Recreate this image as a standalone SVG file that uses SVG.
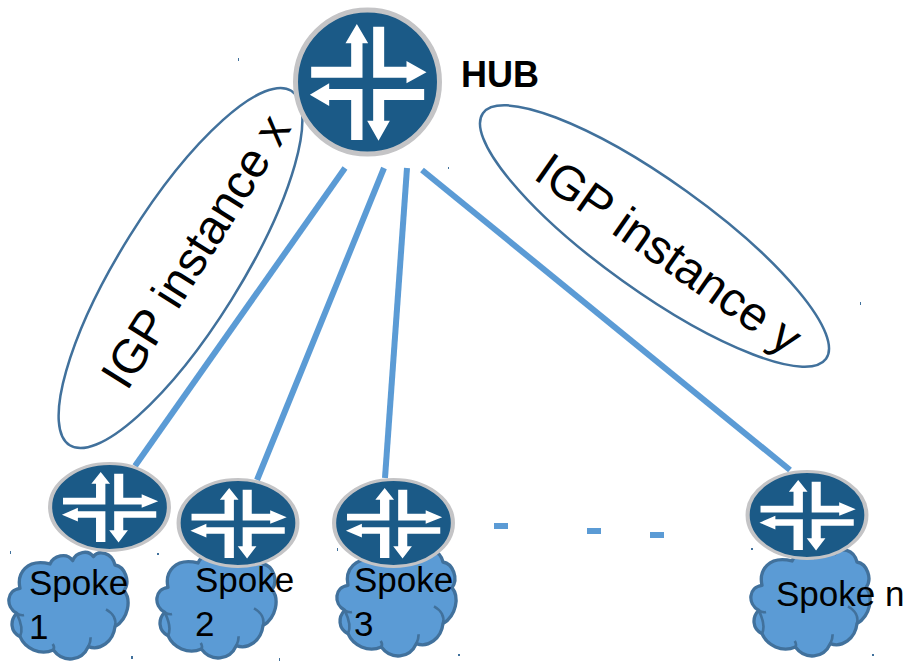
<svg xmlns="http://www.w3.org/2000/svg" width="905" height="661" viewBox="0 0 905 661">
<style>
text{font-family:"Liberation Sans",Arial,sans-serif;fill:#000}
.lbl{font-size:35px}
.big{font-size:48px}
.hub{font-size:36px;font-weight:bold}
.link{stroke:#5b9bd5;stroke-width:6;fill:none}
.dash{fill:#5b9bd5}
.oval{fill:#fff;stroke:#41719c;stroke-width:2.5}
.speck{fill:#41719c}
</style>
<defs>
<g id="router">
<circle r="216" fill="#1b5a87" stroke="#c4c4c6" stroke-width="15"/>
<g fill="#fff">
<polygon points="-32,-174 2,-116 -15,-116 -15,-13 -169,-13 -169,-46 -49,-46 -49,-116 -66,-116"/>
<polygon points="17,-166 50,-166 50,-46 117,-46 117,-63 177,-29 117,4 117,-13 17,-13"/>
<polygon points="-173,38 -115,4 -115,21 -15,21 -15,174 -49,174 -49,54 -115,54 -115,72"/>
<polygon points="17,21 170,21 170,54 50,54 50,116 67,116 33,176 -1,116 17,116"/>
</g>
</g>
<g id="cloud">
<path fill="#5b9bd5" stroke="#41719c" stroke-width="10" stroke-linejoin="round" d="M60,415 C50,370 80,325 150,342 C160,318 200,305 218,332 C228,305 265,298 280,320 C295,300 335,305 345,345 C375,350 392,395 372,422 C395,450 385,505 345,530 C340,575 300,603 265,590 C245,635 190,640 160,600 C120,618 75,595 60,560 C30,545 30,510 50,490 C15,470 20,420 60,415 Z"/>
<path fill="none" stroke="#41719c" stroke-width="8" d="M318,478 C340,490 350,510 345,530 M265,590 C270,580 272,570 272,562 M160,600 C165,592 160,585 158,582 M60,560 C65,550 70,530 50,490 M50,490 C58,495 65,497 72,495"/>
</g>
</defs>
<g id="oval-x"><ellipse class="oval" cx="180.5" cy="268" rx="209" ry="60" transform="rotate(-58 180.5 268)"/></g>
<g id="oval-y"><ellipse class="oval" cx="654.5" cy="236" rx="211" ry="55" transform="rotate(35.6 654.5 236)"/></g>
<g id="connectors">
<line class="link" x1="345" y1="168" x2="135" y2="466"/>
<line class="link" x1="384" y1="168" x2="257" y2="480"/>
<line class="link" x1="407" y1="168" x2="385" y2="478"/>
<line class="link" x1="422" y1="170" x2="790" y2="470"/>
<rect class="dash" x="494" y="523" width="14" height="6"/>
<rect class="dash" x="587" y="528" width="14" height="6"/>
<rect class="dash" x="650" y="532" width="14" height="6"/>
</g>
<g id="hub">
<use href="#router" transform="translate(367.5 82) scale(.3333)"/>
<text class="hub" x="461" y="87">HUB</text>
</g>
<g id="spoke-1">
<use href="#cloud" transform="translate(0 450) scale(.3333)"/>
<use href="#router" transform="translate(109.5 507) scale(.275 .201)"/>
<text class="lbl" x="29" y="595">Spoke</text>
<text class="lbl" x="29" y="639">1</text>
</g>
<g id="spoke-2">
<use href="#cloud" transform="translate(148 449) scale(.3333)"/>
<use href="#router" transform="translate(238 523) scale(.275 .201)"/>
<text class="lbl" x="195" y="592">Spoke</text>
<text class="lbl" x="195" y="636">2</text>
</g>
<g id="spoke-3">
<use href="#cloud" transform="translate(328 447) scale(.3333)"/>
<use href="#router" transform="translate(393.5 523) scale(.275 .201)"/>
<text class="lbl" x="354" y="592">Spoke</text>
<text class="lbl" x="354" y="636">3</text>
</g>
<g id="spoke-n">
<use href="#cloud" transform="translate(742 447) scale(.3333)"/>
<use href="#router" transform="translate(807 515) scale(.275 .201)"/>
<text class="lbl" x="776" y="606">Spoke n</text>
</g>
<g id="labels">
<text class="big" transform="translate(127 392) rotate(-58)">IGP instance x</text>
<text class="big" transform="translate(532 178) rotate(35)">IGP instance y</text>
</g>
<g id="specks">
<rect class="speck" x="10" y="551" width="1" height="3"/>
<rect class="speck" x="157" y="553" width="2" height="2"/>
<rect class="speck" x="131" y="656" width="2" height="3"/>
<rect class="speck" x="279" y="658" width="1" height="3"/>
<rect class="speck" x="337" y="548" width="1" height="3"/>
<rect class="speck" x="458" y="654" width="2" height="2"/>
<rect class="speck" x="751" y="548" width="2" height="2"/>
<rect class="speck" x="872" y="654" width="2" height="2"/>
<rect class="speck" x="238" y="58" width="1" height="3"/>
<rect class="speck" x="860" y="302" width="1" height="3"/>
<rect class="speck" x="448" y="167" width="1" height="2"/>
</g>
</svg>
